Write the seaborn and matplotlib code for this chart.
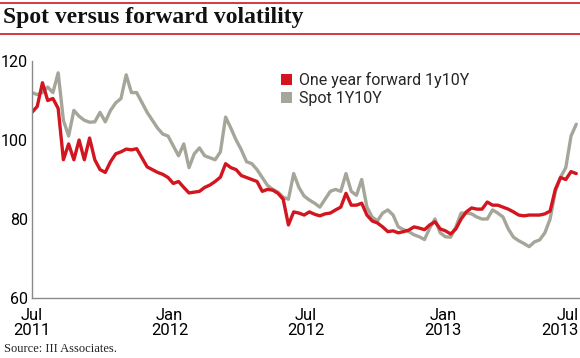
import numpy as np
import pandas as pd
import matplotlib
matplotlib.use("Agg")
import matplotlib.pyplot as plt
from matplotlib.patches import Patch
import seaborn as sns

# weekly observations starting 1 Jul 2011
start_date = "2011-07-01"
forward_1y10y = [107, 108.5, 114.5, 110, 110.5, 108, 95, 99, 95, 100,
                 95, 100.5, 95, 92.5, 91.8, 94.5, 96.5, 97, 97.7, 97.5,
                 97.8, 95.5, 93.2, 92.5, 91.8, 91.3, 90.5, 89, 89.5, 88,
                 86.6, 86.8, 87, 88, 88.6, 89.5, 90.6, 94, 93, 92.5,
                 91, 90.5, 90, 89.5, 87, 87.5, 87.3, 86.5, 85, 78.5,
                 81.8, 81.5, 81, 81.8, 81.2, 80.8, 81.3, 81.5, 82.3, 83,
                 86.5, 83.5, 83.5, 84, 81, 79.5, 79, 78, 76.8, 77,
                 76.5, 76.8, 77.2, 78, 77.7, 77.3, 78.5, 79.3, 77.5, 77,
                 76.2, 77.5, 80, 81.8, 82.8, 82.5, 82.5, 84.3, 83.5, 83.5,
                 83, 82.5, 81.8, 81, 80.8, 81, 81, 81, 81.3, 82,
                 87.5, 90.5, 90, 92, 91.5]
spot_1y10y = [112, 111.5, 112, 113.4, 112, 117, 105, 101, 107.5, 106,
              105, 104.5, 104.6, 107, 104.6, 107.5, 109.4, 110.5, 116.5, 112,
              112, 109.5, 107, 105, 103, 101.5, 101, 98.5, 96, 99,
              93, 96.5, 98, 96, 95.5, 95, 97, 105.8, 103, 100,
              97.5, 94.5, 94, 92.5, 90.5, 88.5, 87.5, 86.8, 85.5, 85,
              91.5, 88, 85.8, 84.8, 84, 83, 85, 87, 87.5, 87,
              91.5, 87, 86, 90, 83, 80.5, 79.5, 81.5, 82.3, 81,
              78, 77.3, 76.8, 76, 75.5, 74.8, 77.7, 80, 76.5, 75.5,
              75.4, 78, 81.5, 81.5, 81.3, 80.5, 80, 80, 82.3, 81.5,
              80.5, 77.5, 75.4, 74.5, 73.8, 73, 74.2, 74.7, 76.5, 80,
              87, 90.6, 93, 101, 104]
series_names = ["One year forward 1y10Y", "Spot 1Y10Y"]
y_ticks = [60, 80, 100, 120]
x_tick_dates = ["2011-07-01", "2012-01-01", "2012-07-01", "2013-01-01", "2013-07-01"]
x_tick_labels = ["Jul\n2011", "Jan\n2012", "Jul\n2012", "Jan\n2013", "Jul\n2013"]

dates = pd.date_range(start_date, periods=len(forward_1y10y), freq="7D")
df = pd.DataFrame({
    "date": list(dates) * 2,
    "value": forward_1y10y + spot_1y10y,
    "series": [series_names[0]] * len(dates) + [series_names[1]] * len(dates),
})

RED = "#d2151e"
GREY = "#a6a59a"
palette = {series_names[0]: RED, series_names[1]: GREY}

sns.set_style("white")
plt.rcParams["font.family"] = ["Roboto", "DejaVu Sans"]

fig = plt.figure(figsize=(5.8, 3.58), dpi=100)
ax = fig.add_axes([32 / 580, 1 - 298 / 358, 1 - 32 / 580, (298 - 61) / 358])

sns.lineplot(data=df, x="date", y="value", hue="series",
             hue_order=[series_names[1], series_names[0]],
             palette=palette, linewidth=2.4, ax=ax, legend=False)

ax.set_ylim(60, 120)
ax.set_xlim(pd.Timestamp("2011-07-01"), pd.Timestamp("2013-07-03"))
ax.set_yticks(y_ticks)
ax.set_yticklabels([str(v) for v in y_ticks], fontsize=11.5)
ax.set_xticks(pd.to_datetime(x_tick_dates))
ax.set_xticklabels(x_tick_labels, fontsize=12, linespacing=1.0)
lbls = ax.get_xticklabels()
lbls[-1].set_horizontalalignment("right")
ax.tick_params(axis="both", length=0, colors="black")
ax.tick_params(axis="y", pad=3)
ax.tick_params(axis="x", pad=7)
ax.set_xlabel("")
ax.set_ylabel("")
for s in ["top", "right"]:
    ax.spines[s].set_visible(False)
for s in ["left", "bottom"]:
    ax.spines[s].set_color("#8a8a8a")
    ax.spines[s].set_linewidth(1.0)

handles = [Patch(facecolor=RED, edgecolor="none"), Patch(facecolor=GREY, edgecolor="none")]
fig.legend(handles, series_names, loc="upper left",
           bbox_to_anchor=(281 / 580, 1 - 72 / 358), frameon=False,
           fontsize=11.5, handlelength=0.7, handleheight=0.7,
           handletextpad=0.45, labelspacing=0.2, borderaxespad=0, borderpad=0)

# title with red rules
fig.add_artist(plt.Line2D([0, 1], [1 - 2.5 / 358, 1 - 2.5 / 358], color=RED, lw=1.2,
                          transform=fig.transFigure))
fig.add_artist(plt.Line2D([0, 1], [1 - 34 / 358, 1 - 34 / 358], color=RED, lw=1.2,
                          transform=fig.transFigure))
fig.text(3 / 580, 1 - 18 / 358, "Spot versus forward volatility",
         family=["Liberation Serif", "DejaVu Serif"], fontweight="bold",
         fontsize=17, va="center", ha="left", color="#111111")
fig.text(4 / 580, 1 - 349 / 358, "Source: III Associates.",
         family=["Liberation Serif", "DejaVu Serif"], fontsize=9,
         va="center", ha="left", color="#222222")

fig.savefig("out.png", dpi=100)
